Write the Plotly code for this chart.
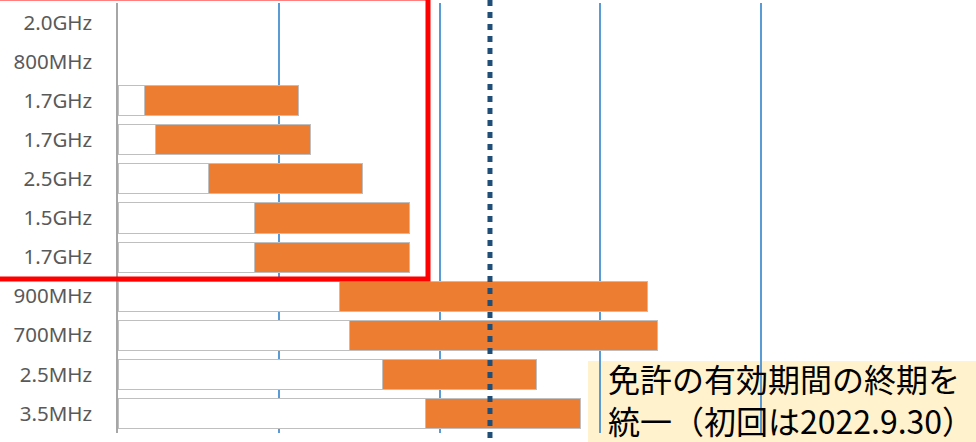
import plotly.graph_objects as go

# ---- data ----
categories = ["2.0GHz", "800MHz", "1.7GHz", "1.7GHz", "2.5GHz", "1.5GHz",
              "1.7GHz", "900MHz", "700MHz", "2.5MHz", "3.5MHz"]
start_vals = [None, None, 1.62, 2.33, 5.66, 8.52, 8.52, 13.75, 14.41, 16.47, 19.10]
period_vals = [None, None, 9.58, 9.67, 9.58, 9.64, 9.64, 19.22, 19.18, 9.58, 9.64]
deadline_val = 23.14
grid_vals = [10, 20, 30, 40]
note_lines = ["免許の有効期間の終期を", "統一（初回は2022.9.30）"]

# ---- geometry ----
W, H = 976, 442
L, R, T, B = 118, 56, 3, 9
PW, PH = W - L - R, H - T - B
XMAX = PW / 16.075


def px(x):
    return (x - L) / PW


def py(y):
    return (H - B - y) / PH


ypos = list(range(len(categories)))

fig = go.Figure()
fig.add_trace(go.Bar(
    y=ypos, x=start_vals, orientation="h",
    marker=dict(color="white", line=dict(color="#BFBFBF", width=1)),
    showlegend=False, hoverinfo="skip"))
fig.add_trace(go.Bar(
    y=ypos, x=period_vals, orientation="h",
    marker=dict(color="#ED7D31", line=dict(color="#BFBFBF", width=1)),
    showlegend=False))

shapes = [
    # cream note box
    dict(type="rect", xref="paper", yref="paper", x0=px(588), x1=px(990),
         y0=py(361), y1=py(450), fillcolor="#FFF2CC", line=dict(width=0),
         layer="below"),
    # deadline dotted line
    dict(type="line", xref="x", yref="paper", x0=deadline_val, x1=deadline_val,
         y0=py(0), y1=py(446), line=dict(color="#1F4E79", width=5, dash="6px,6px")),
    # red highlight rectangle
    dict(type="rect", xref="paper", yref="paper", x0=px(-20), x1=px(428),
         y0=py(279), y1=py(-2), line=dict(color="#FF0000", width=5),
         fillcolor="rgba(0,0,0,0)"),
]

annotations = [
    dict(text="<br>".join(note_lines), xref="paper", yref="paper",
         x=px(606), y=py(399), xanchor="left", yanchor="middle", align="left",
         showarrow=False,
         font=dict(size=32, color="black", family="Noto Sans CJK JP")),
]

fig.update_layout(
    width=W, height=H,
    margin=dict(l=L, r=R, t=T, b=B, pad=0),
    barmode="stack", bargap=0.23,
    paper_bgcolor="white", plot_bgcolor="rgba(0,0,0,0)",
    shapes=shapes, annotations=annotations,
    xaxis=dict(range=[0, XMAX], tickvals=grid_vals, showticklabels=False,
               showgrid=True, gridcolor="#5B9BD5", gridwidth=1.5,
               zeroline=False, showline=False, fixedrange=True),
    yaxis=dict(range=[len(categories) - 0.5, -0.5], tickvals=ypos,
               ticktext=categories, showgrid=False, zeroline=False,
               showline=True, linecolor="#A6A6A6", linewidth=1.5,
               ticks="", ticklabelstandoff=20,
               tickfont=dict(size=20.5, color="#595959", family="Noto Sans")),
)

fig.write_html("out.html")
